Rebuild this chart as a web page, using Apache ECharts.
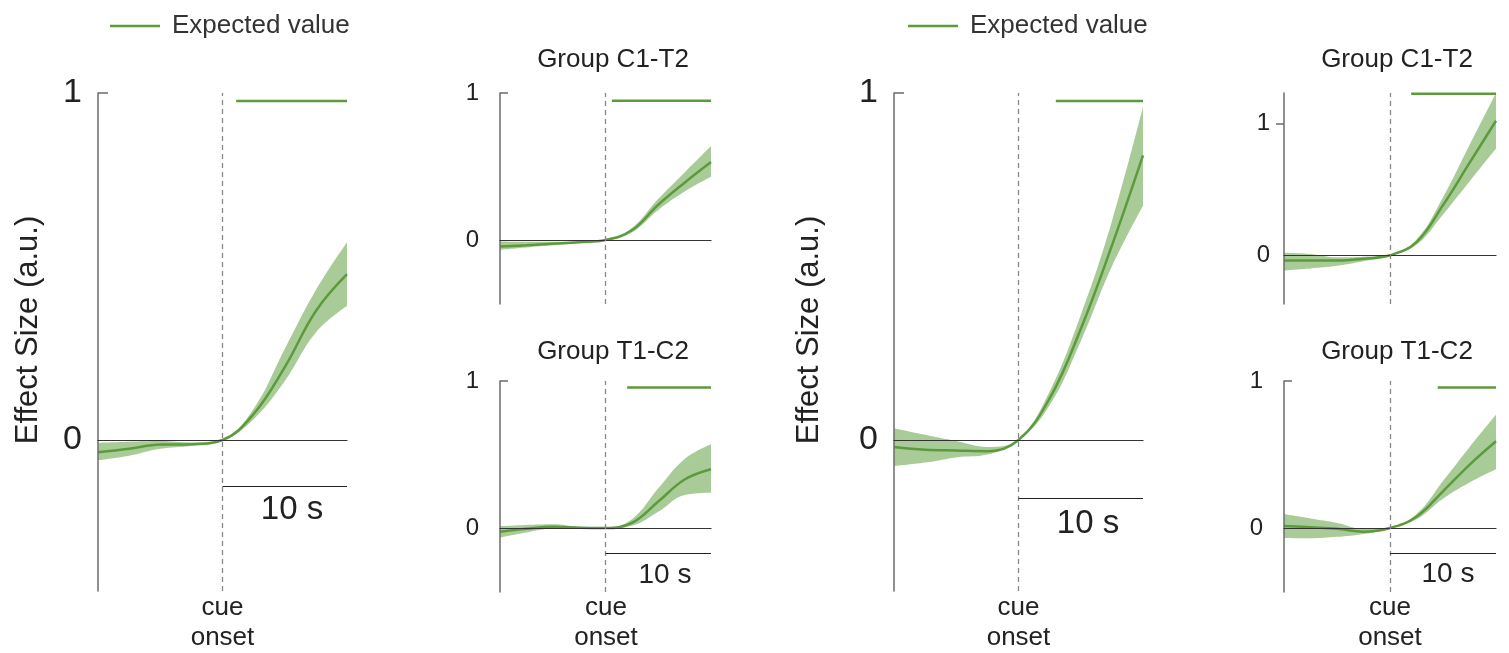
<!DOCTYPE html>
<html>
<head>
<meta charset="utf-8">
<style>
    html, body { margin: 0; padding: 0; background: #fff; }
    #chart { width: 1509px; height: 653px; }
</style>
<script src="https://cdn.jsdelivr.net/npm/echarts@6/dist/echarts.min.js"></script>
</head>
<body>
<div id="chart"></div>
<script>
// 采样时间（s，相对 cue onset）
const times = [-10, -7.5, -5, -2.5, 0, 2.5, 5, 7.5, 10];

// 左大图
const meanA = [-0.035, -0.025, -0.013, -0.012, 0, 0.075, 0.21, 0.372, 0.478];
const lowA  = [-0.058, -0.045, -0.025, -0.017, -0.003, 0.06, 0.17, 0.31, 0.386];
const highA = [-0.008, -0.005, -0.003, -0.007, 0.003, 0.09, 0.262, 0.432, 0.57];
// Group C1-T2（左）
const meanB = [-0.044, -0.035, -0.025, -0.015, 0, 0.066, 0.24, 0.39, 0.53];
const lowB  = [-0.066, -0.05, -0.035, -0.02, -0.003, 0.052, 0.205, 0.33, 0.43];
const highB = [-0.01, -0.012, -0.012, -0.008, 0.003, 0.082, 0.28, 0.46, 0.64];
// Group T1-C2（左）
const meanC = [-0.025, -0.005, 0.008, 0.002, 0, 0.035, 0.18, 0.33, 0.40];
const lowC  = [-0.065, -0.03, -0.005, -0.005, -0.003, 0.015, 0.11, 0.225, 0.24];
const highC = [0.012, 0.02, 0.025, 0.008, 0.003, 0.06, 0.27, 0.47, 0.57];
// 右大图
const meanD = [-0.02, -0.028, -0.03, -0.032, 0, 0.12, 0.32, 0.56, 0.82];
const lowD  = [-0.075, -0.065, -0.05, -0.042, -0.003, 0.10, 0.285, 0.50, 0.675];
const highD = [0.034, 0.015, -0.003, -0.02, 0.003, 0.14, 0.36, 0.63, 0.96];
// Group C1-T2（右）
const meanE = [-0.039, -0.04, -0.04, -0.026, 0, 0.10, 0.38, 0.70, 1.02];
const lowE  = [-0.115, -0.10, -0.08, -0.045, -0.005, 0.08, 0.31, 0.56, 0.81];
const highE = [0.02, 0.01, -0.015, -0.01, 0.005, 0.12, 0.44, 0.835, 1.23];
// Group T1-C2（右）
const meanF = [0.014, 0.005, -0.005, -0.025, 0, 0.077, 0.25, 0.43, 0.59];
const lowF  = [-0.068, -0.07, -0.06, -0.04, -0.004, 0.06, 0.20, 0.31, 0.40];
const highF = [0.095, 0.065, 0.035, -0.005, 0.004, 0.095, 0.32, 0.55, 0.77];

// Expected value 横线：起点时间、数值
const expectedStart = [1.1, 0.6, 2.05, 3.0, 2.0, 4.5];
const expectedLevel = [0.977, 0.948, 0.955, 0.977, 1.225, 0.955];
// 10 s 比例尺所在的 y 值（null 表示没有）
const scaleBarLevel = [-0.133, null, -0.174, -0.167, null, -0.172];
// y 轴范围
const yMin = [-0.435, -0.435, -0.435, -0.435, -0.369, -0.435];
const yMax = [1, 1, 1, 1, 1.23, 1];
// 刻度标签
const tickLabels = [0, 1];

const green = '#5b9b3b';
const bandColor = '#a9cb98';
const fontFamily = '"Liberation Sans", Helvetica, Arial, sans-serif';

const means = [meanA, meanB, meanC, meanD, meanE, meanF];
const lows = [lowA, lowB, lowC, lowD, lowE, lowF];
const highs = [highA, highB, highC, highD, highE, highF];

// 每个小图的位置（像素）
const layout = [
    { left: 98, top: 93, width: 249, height: 498, big: true },
    { left: 500, top: 93, width: 211, height: 211 },
    { left: 500, top: 381, width: 211, height: 211 },
    { left: 894, top: 93, width: 249, height: 498, big: true },
    { left: 1284, top: 93, width: 212, height: 211, tickOut: true },
    { left: 1284, top: 381, width: 212, height: 211 },
];

let chart = echarts.init(document.getElementById('chart'));

let option = {
    animation: false,
    backgroundColor: '#fff',
    textStyle: { fontFamily: fontFamily },
    grid: [], xAxis: [], yAxis: [], series: [],
    legend: [],
    graphic: []
};

layout.forEach((g, i) => {
    option.grid.push({ left: g.left, top: g.top, width: g.width, height: g.height, containLabel: false });
    // x轴：只显示 0 处的横线
    option.xAxis.push({
        gridIndex: i, type: 'value', min: -10, max: 10, z: 4,
        axisLine: { show: true, onZero: true, lineStyle: { color: '#333', width: 1.2 } },
        axisTick: { show: false }, axisLabel: { show: false }, splitLine: { show: false }
    });
    // y轴：贴在左边，不跟随 x=0
    option.yAxis.push({
        gridIndex: i, type: 'value', min: yMin[i], max: yMax[i], z: 4,
        axisLine: { show: true, onZero: false, lineStyle: { color: '#6b6b6b', width: 1.5 } },
        axisTick: {
            show: true, customValues: [1], inside: !g.tickOut, length: g.big ? 10 : 8,
            lineStyle: { color: '#6b6b6b', width: 1.5 }
        },
        axisLabel: {
            customValues: tickLabels, color: '#222', fontFamily: fontFamily,
            fontSize: g.big ? 34 : 24, margin: g.big ? 16 : (g.tickOut ? 14 : 21)
        },
        splitLine: { show: false }
    });

    const pts = arr => times.map((t, k) => [t, arr[k]]);
    const base = {
        type: 'line', xAxisIndex: i, yAxisIndex: i, smooth: 0.4,
        symbol: 'none', silent: true
    };
    // 置信带：上沿填充到底，再用白色把下沿以下盖掉
    option.series.push(Object.assign({}, base, {
        name: 'band', data: pts(highs[i]), z: 1,
        lineStyle: { width: 0 },
        areaStyle: { color: bandColor, opacity: 1, origin: 'start' }
    }));
    option.series.push(Object.assign({}, base, {
        name: 'mask', data: pts(lows[i]), z: 2,
        lineStyle: { width: 0 },
        areaStyle: { color: '#fff', opacity: 1, origin: 'start' }
    }));

    let markData = [{
        xAxis: 0, label: { show: false },
        lineStyle: { color: '#888', type: [5, 4], width: 1.3 }
    }];
    if (scaleBarLevel[i] !== null) {
        markData.push([
            { coord: [0, scaleBarLevel[i]], label: { show: false }, lineStyle: { color: '#222', type: 'solid', width: 1.2 } },
            { coord: [10, scaleBarLevel[i]] }
        ]);
    }
    option.series.push(Object.assign({}, base, {
        name: 'mean', data: pts(means[i]), z: 3,
        lineStyle: { color: green, width: 2.5 },
        markLine: { silent: true, symbol: ['none', 'none'], z: 5, data: markData }
    }));
    option.series.push(Object.assign({}, base, {
        name: 'Expected value', smooth: false, clip: false, z: 3,
        data: [[expectedStart[i], expectedLevel[i]], [10, expectedLevel[i]]],
        lineStyle: { color: green, width: 2.5 }, itemStyle: { color: green }
    }));
});

// 图例
[105, 903].forEach(x => {
    option.legend.push({
        left: x, top: 8, data: ['Expected value'], icon: 'rect',
        itemWidth: 50, itemHeight: 2.5,
        textStyle: { fontSize: 26, color: '#333', fontFamily: fontFamily, padding: [0, 0, 0, 7] }
    });
});

// 文字注释（z 要比白色遮罩高）
const txt = (x, y, text, size, extra) => Object.assign({
    type: 'text', x: x, y: y, z: 20,
    style: { text: text, fontSize: size, fontFamily: fontFamily, fill: '#222', align: 'center', verticalAlign: 'middle' }
}, extra || {});

option.graphic = [
    txt(28, 330, 'Effect Size (a.u.)', 31, { rotation: Math.PI / 2 }),
    txt(809, 330, 'Effect Size (a.u.)', 31, { rotation: Math.PI / 2 }),
    txt(613, 60, 'Group C1-T2', 26),
    txt(613, 352, 'Group T1-C2', 26),
    txt(1397, 60, 'Group C1-T2', 26),
    txt(1397, 352, 'Group T1-C2', 26),
    txt(292, 510, '10 s', 33),
    txt(665, 575, '10 s', 28),
    txt(1088, 524, '10 s', 33),
    txt(1448, 574, '10 s', 28),
];
[222.5, 606, 1018.5, 1390].forEach(x => {
    option.graphic.push({
        type: 'text', x: x, y: 593, z: 20,
        style: { text: 'cue\nonset', fontSize: 26, lineHeight: 30, fontFamily: fontFamily, fill: '#222', align: 'center', verticalAlign: 'top' }
    });
});

chart.setOption(option);
</script>
</body>
</html>
